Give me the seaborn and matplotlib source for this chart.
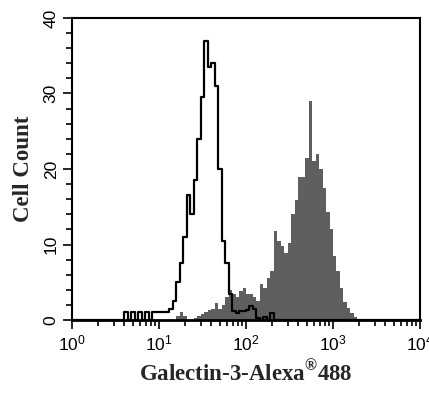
import numpy as np
import pandas as pd
import matplotlib
matplotlib.use("Agg")
import matplotlib.pyplot as plt
import seaborn as sns
from matplotlib.ticker import MultipleLocator, LogLocator, NullFormatter

# ---- data (counts per log-channel, 100 channels over 4 decades) ----
log_min, log_max = 0.0, 4.0
n_bins = 100

open_counts = [
    0, 0, 0, 0, 0, 0, 0, 0, 0, 0,
    0, 0, 0, 0, 0, 1, 0, 1, 0, 1,
    0, 1, 0, 1, 1, 1, 1, 1, 1.5, 2.5,
    5, 7.5, 11, 16.5, 14, 18.5, 24, 29.5, 37, 33.5,
    34, 31, 20, 10.5, 7.5, 3.5, 1.2, 0.9, 1.2, 1.2,
    1.3, 1.8, 1.5, 0.3, 0, 0.4, 0, 0.9, 0, 0,
    0, 0, 0, 0, 0, 0, 0, 0, 0, 0,
    0, 0, 0, 0, 0, 0, 0, 0, 0, 0,
    0, 0, 0, 0, 0, 0, 0, 0, 0, 0,
    0, 0, 0, 0, 0, 0, 0, 0, 0, 0,
]

filled_counts = [
    0, 0, 0, 0, 0, 0, 0, 0, 0, 0,
    0, 0, 0, 0, 0, 0, 0, 0, 0, 0,
    0, 0, 0, 0, 0, 0, 0, 0, 0, 0,
    0.5, 1.1, 0.5, 0, 0, 0.3, 0.5, 0.8, 1.0, 1.3,
    1.5, 2.2, 1.5, 2.0, 3.0, 4.0, 3.4, 3.1, 3.8, 4.2,
    3.5, 3.5, 3.0, 2.5, 4.8, 4.2, 5.5, 6.5, 11.8, 10.5,
    9.8, 8.9, 10.2, 14, 15.9, 19, 19, 21.5, 29, 21,
    22, 20, 17.5, 14.3, 12, 8.5, 6.5, 4.2, 2.4, 1.6,
    0.9, 0.4, 0, 0, 0, 0, 0, 0, 0, 0,
    0, 0, 0, 0, 0, 0, 0, 0, 0, 0,
]

x_label = r"Galectin-3-Alexa$^{\mathdefault{®}}$488"
y_label = "Cell Count"

# ---- figure ----
sns.set_style("ticks")
plt.rcParams["font.family"] = ["Liberation Sans", "DejaVu Sans"]
plt.rcParams["mathtext.fontset"] = "custom"

fig = plt.figure(figsize=(4.29, 3.94), dpi=100)
ax = fig.add_axes([72 / 429, 1 - 320 / 394, 348 / 429, 302 / 394])

edges_log = np.linspace(log_min, log_max, n_bins + 1)
centers = 10 ** ((edges_log[:-1] + edges_log[1:]) / 2)
df = pd.DataFrame({"intensity": centers, "open": open_counts, "filled": filled_counts})

sns.histplot(data=df, x="intensity", weights="filled", bins=n_bins,
             binrange=(log_min, log_max), log_scale=True, element="step",
             fill=True, color="#5f5f5f", alpha=1, linewidth=0, ax=ax)
sns.histplot(data=df, x="intensity", weights="open", bins=n_bins,
             binrange=(log_min, log_max), log_scale=True, element="step",
             fill=False, color="black", linewidth=1.6, ax=ax)

ax.set_xlim(1, 1e4)
ax.set_ylim(0, 40)
ax.yaxis.set_major_locator(MultipleLocator(10))
ax.yaxis.set_minor_locator(MultipleLocator(2))
ax.xaxis.set_major_locator(LogLocator(base=10, numticks=10))
ax.xaxis.set_minor_locator(LogLocator(base=10, subs=np.arange(2, 10), numticks=20))
ax.xaxis.set_minor_formatter(NullFormatter())

for sp in ax.spines.values():
    sp.set_visible(True)
    sp.set_linewidth(1.5)
    sp.set_color("black")
ax.spines["bottom"].set_linewidth(2.0)

ax.tick_params(axis="both", which="major", length=6.5, width=1.2, direction="out",
               labelsize=12.5, color="black", labelcolor="black", pad=3)
ax.tick_params(axis="both", which="minor", length=4, width=1.2, direction="out",
               color="black")
ax.tick_params(axis="y", labelrotation=90)
for lab in ax.get_yticklabels():
    lab.set_verticalalignment("center")

ax.set_ylabel(y_label, fontfamily="Liberation Serif", fontweight="bold",
              fontsize=16.5, labelpad=7)
ax.set_xlabel(x_label, fontfamily="Liberation Serif", fontweight="bold",
              fontsize=16.5, labelpad=5)

fig.savefig("out.png", dpi=100)
